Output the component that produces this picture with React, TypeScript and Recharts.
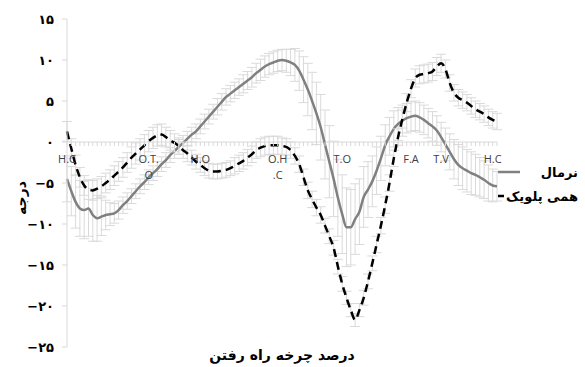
import { LineChart, Line, XAxis, YAxis, ErrorBar, ReferenceLine } from 'recharts'

// gait cycle %, one point per percent
const pct = Array.from({ length: 101 }, (_, i) => i)

const normal = [
  -4.5, -6.0, -7.3, -8.1, -8.3, -8.1, -8.9, -9.3, -9.1, -8.9,
  -8.8, -8.7, -8.3, -7.7, -7.2, -6.6, -6.0, -5.4, -4.9, -4.3,
  -3.8, -3.3, -2.7, -2.2, -1.6, -1.1, -0.6, -0.1, 0.4, 0.9,
  1.3, 1.9, 2.5, 3.1, 3.7, 4.3, 4.9, 5.5, 5.9, 6.3,
  6.7, 7.1, 7.5, 7.9, 8.4, 8.8, 9.2, 9.5, 9.7, 9.9,
  10.0, 9.9, 9.7, 9.4, 8.7, 7.6, 6.4, 5.0, 3.5, 1.8,
  -0.3, -2.4, -4.5, -6.8, -8.8, -10.4, -10.4, -9.4, -8.5, -6.7,
  -5.8, -4.8, -3.5, -2.0, -0.4, 0.7, 1.6, 2.2, 2.6, 2.9,
  3.1, 3.2, 3.0, 2.7, 2.3, 1.9, 1.4, 0.6, -0.3, -1.2,
  -2.1, -2.8, -3.2, -3.5, -3.8, -4.0, -4.3, -4.6, -5.0, -5.3,
  -5.4,
]

const normalErr = [
  2.8, 3.0, 3.2, 3.4, 3.5, 3.4, 3.2, 2.8, 2.3, 1.8,
  1.4, 1.2, 1.1, 1.0, 1.0, 0.9, 0.9, 0.9, 0.9, 0.9,
  0.9, 0.9, 0.9, 0.9, 0.9, 0.9, 0.9, 0.9, 0.9, 0.9,
  0.9, 0.9, 0.9, 0.9, 0.9, 1.0, 1.0, 1.0, 1.0, 1.0,
  1.0, 1.1, 1.1, 1.2, 1.2, 1.3, 1.3, 1.3, 1.3, 1.3,
  1.3, 1.4, 1.6, 2.0, 2.4, 2.8, 3.2, 3.5, 3.8, 4.0,
  4.2, 4.4, 4.6, 4.7, 4.8, 4.8, 4.6, 4.3, 4.0, 3.7,
  3.4, 3.1, 2.9, 2.7, 2.5, 2.3, 2.2, 2.0, 1.9, 1.8,
  1.8, 1.8, 1.8, 1.8, 1.8, 1.8, 1.8, 1.8, 2.0, 2.2,
  2.4, 2.5, 2.6, 2.6, 2.6, 2.5, 2.4, 2.3, 2.2, 2.0,
  1.8,
]

const hemi = [
  1.3, -0.8, -2.8, -4.3, -5.3, -5.8, -5.9, -5.7, -5.4, -5.0,
  -4.6, -4.1, -3.6, -3.1, -2.5, -1.9, -1.4, -0.9, -0.4, 0.1,
  0.5, 0.8, 0.9, 0.6, 0.2, -0.1, -0.5, -1.0, -1.4, -1.9,
  -2.4, -2.8, -3.2, -3.5, -3.6, -3.6, -3.5, -3.4, -3.2, -2.9,
  -2.6, -2.3, -1.9, -1.5, -1.0, -0.7, -0.5, -0.4, -0.4, -0.4,
  -0.5, -0.6, -1.0, -1.7, -2.7, -4.3, -5.9, -7.0, -8.0, -8.9,
  -10.2, -11.5, -12.9, -15.2, -17.3, -19.0, -20.5, -21.7, -20.5, -19.0,
  -17.0, -14.8, -12.5, -10.2, -7.7, -5.0, -2.0, 0.6, 2.8, 4.8,
  6.5, 7.8, 8.2, 8.3, 8.4, 8.6, 9.2, 9.6, 8.9, 7.2,
  6.0, 5.4, 5.1, 4.8, 4.4, 4.0, 3.7, 3.4, 3.0, 2.7,
  2.5,
]

const hemiErr = [
  1.2, 1.2, 1.2, 1.2, 1.2, 1.2, 1.2, 1.2, 1.2, 1.2,
  1.2, 1.2, 1.2, 1.2, 1.2, 1.3, 1.3, 1.3, 1.3, 1.3,
  1.3, 1.3, 1.3, 1.2, 1.2, 1.1, 1.0, 1.0, 1.0, 0.9,
  0.9, 0.9, 0.9, 0.9, 0.9, 0.9, 0.9, 0.9, 0.9, 1.0,
  1.0, 1.0, 1.0, 1.0, 1.0, 1.1, 1.1, 1.1, 1.1, 1.1,
  1.0, 1.0, 1.0, 1.0, 1.0, 1.0, 1.0, 1.0, 1.0, 1.0,
  0.9, 0.9, 0.9, 0.9, 0.9, 0.8, 0.8, 0.8, 0.8, 0.9,
  0.9, 0.9, 1.0, 1.0, 1.0, 1.0, 1.0, 1.0, 1.1, 1.1,
  1.1, 1.1, 1.1, 1.1, 1.1, 1.1, 1.1, 1.1, 1.1, 1.0,
  1.0, 1.0, 1.0, 1.0, 1.0, 1.0, 1.0, 1.0, 1.0, 1.0,
  1.0,
]

// gait events on the zero line
const eventPcts = [0, 19, 31, 49, 64, 80, 87, 99]
const eventLabels = [['H.C'], ['O.T.', 'O'], ['H.O'], ['O.H', '.C'], ['T.O'], ['F.A'], ['T.V'], ['H.C']]

const yTicks = [-25, -20, -15, -10, -5, 0, 5, 10, 15]
const yMin = -25
const yMax = 15

const W = 585
const H = 367
const XH = 20
const M = { top: 19, right: 88, bottom: 0, left: 0 }
const plotH = H - M.top - M.bottom - XH
const zeroY = M.top + (yMax / (yMax - yMin)) * plotH

const faDigits = '۰۱۲۳۴۵۶۷۸۹'
const toFa = (v: number) => {
  const s = String(Math.abs(v)).replace(/\d/g, d => faDigits[+d])
  return v < 0 ? '−' + s : s
}

const data = pct.map((p, i) => ({
  pct: p,
  normal: normal[i],
  nErr: normalErr[i],
  hemi: hemi[i],
  hErr: hemiErr[i],
}))

const EventTick = (props: any) => {
  const { x, payload } = props
  const idx = eventPcts.indexOf(payload.value)
  return (
    <g>
      <line x1={x} x2={x} y1={zeroY} y2={zeroY + 4} stroke="#d9d9d9" />
      {idx >= 0 && eventLabels[idx].map((t, k) => (
        <text key={k} x={x} y={zeroY + 21 + k * 16} textAnchor="middle"
          fontSize={11} fill="#404040" fontFamily="'Open Sans', sans-serif">
          {t}
        </text>
      ))}
    </g>
  )
}

const faFont = "'DejaVu Sans', sans-serif"

export default function App() {
  return (
    <div style={{ position: 'absolute', left: 0, top: 0, width: W, height: H, background: '#fff' }}>
      <LineChart width={W} height={H} data={data} margin={M}>
        <XAxis
          type="number"
          dataKey="pct"
          domain={[0, 100]}
          ticks={pct}
          interval={0}
          height={XH}
          axisLine={false}
          tickLine={false}
          tick={<EventTick />}
          label={{
            content: ({ viewBox }: any) => (
              <text x={viewBox.x + viewBox.width / 2} y={viewBox.y + 13} textAnchor="middle"
                fontSize={14} fontWeight="bold" fontFamily={faFont} fill="#000" direction="rtl">
                درصد چرخه راه رفتن
              </text>
            ),
          }}
        />
        <YAxis
          type="number"
          domain={[yMin, yMax]}
          ticks={yTicks}
          width={67}
          stroke="#d9d9d9"
          tickSize={5}
          tickMargin={8}
          tickFormatter={toFa}
          tick={{ fill: '#000', fontSize: 13, fontWeight: 'bold', fontFamily: faFont }}
          label={{
            content: () => (
              <text x={21} y={198} transform="rotate(-90 21 198)" textAnchor="middle"
                dominantBaseline="central" fontSize={14} fontWeight="bold" fontFamily={faFont} fill="#000">
                درجه
              </text>
            ),
          }}
        />
        <ReferenceLine y={0} stroke="#d9d9d9" strokeWidth={1} />
        <Line dataKey="normal" type="monotone" stroke="#808080" strokeWidth={2.5} dot={false} isAnimationActive={false}>
          <ErrorBar dataKey="nErr" direction="y" width={5} stroke="#dadada" strokeWidth={1} />
        </Line>
        <Line dataKey="hemi" type="monotone" stroke="#000" strokeWidth={2.5} strokeDasharray="8 5" dot={false} isAnimationActive={false}>
          <ErrorBar dataKey="hErr" direction="y" width={5} stroke="#dadada" strokeWidth={1} />
        </Line>
      </LineChart>
      <div style={{ position: 'absolute', left: 498, top: 160, width: 80, fontFamily: faFont, fontSize: 13, fontWeight: 'bold', whiteSpace: 'nowrap' }}>
        <div style={{ display: 'flex', alignItems: 'center', height: 24 }}>
          <svg width={22} height={6}><line x1={0} x2={22} y1={3} y2={3} stroke="#808080" strokeWidth={2.5} /></svg>
          <span style={{ marginLeft: 'auto', direction: 'rtl' }}>نرمال</span>
        </div>
        <div style={{ display: 'flex', alignItems: 'center', height: 24 }}>
          <svg width={14} height={6}><line x1={0} x2={14} y1={3} y2={3} stroke="#000" strokeWidth={2.5} strokeDasharray="6 3" /></svg>
          <span style={{ marginLeft: 'auto', direction: 'rtl' }}>همی پلویک</span>
        </div>
      </div>
    </div>
  )
}
